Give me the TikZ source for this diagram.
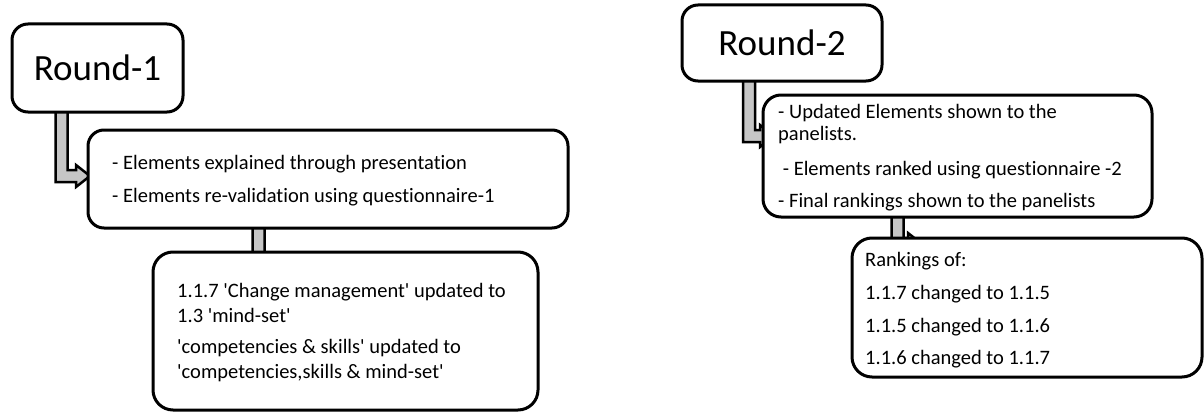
\documentclass[tikz,border=0pt]{standalone}
\usepackage{fontspec}
\setmainfont{Carlito}[Ligatures={NoCommon}]
\usetikzlibrary{calc}
\tikzset{
  box/.style={draw=black, line width=3pt, rounded corners=16pt, fill=white, outer sep=0pt, inner sep=0pt, anchor=north west},
  roundtxt/.style={font=\fontsize{37}{44}\selectfont},
  line/.style={anchor=base west, inner sep=0pt, font=\fontsize{20.5}{25}\selectfont},
  blockarrow/.style={draw=black, line width=2.5pt, fill=gray!45, line join=miter},
}
\newcommand{\q}{\textquotesingle}
\newcommand{\bentarrow}[3]{%
  \path[blockarrow] let \p1=(#1), \p2=(#2) in
   (\x1-6pt,\y1) -- (\x1-6pt,\y2-6pt) -- (\x2-#3,\y2-6pt) -- (\x2-#3,\y2-11pt) -- (\x2,\y2)
   -- (\x2-#3,\y2+11pt) -- (\x2-#3,\y2+6pt) -- (\x1+6pt,\y2+6pt) -- (\x1+6pt,\y1) -- cycle;}
\begin{document}
\begin{tikzpicture}[x=1pt,y=-1pt]
\useasboundingbox (0,0) rectangle (1204,412);
% node frames (positions), drawn later on top of arrows
\node[box, minimum width=171pt, minimum height=88pt, draw=none, fill=none] (r1) at (12,24) {};
\node[box, minimum width=480pt, minimum height=98pt, draw=none, fill=none] (b2) at (88,130) {};
\node[box, minimum width=385pt, minimum height=158pt, draw=none, fill=none] (b3) at (153,252) {};
\node[box, minimum width=200pt, minimum height=76pt, draw=none, fill=none] (r2) at (682,5) {};
\node[box, minimum width=389pt, minimum height=122pt, draw=none, fill=none] (b4) at (763,95) {};
\node[box, minimum width=350pt, minimum height=139pt, draw=none, fill=none] (b5) at (852,238) {};
% connectors
\bentarrow{$(r1.south west)+(49.5,-5)$}{$(b2.west)+(2,-3)$}{14pt}
\bentarrow{$(b2.south west)+(170.5,-5)$}{$(b3.north west)+(130,16)$}{14pt}
\bentarrow{$(r2.south west)+(67,-5)$}{$(b4.west)+(11,-20)$}{14pt}
\bentarrow{$(b4.south west)+(134.5,-5)$}{$(b5.north west)+(70,6)$}{14pt}
% boxes
\node[box, minimum width=171pt, minimum height=88pt, roundtxt, align=center] (r1box) at (r1.north west) {Round-1};
\node[box, minimum width=480pt, minimum height=98pt] (b2box) at (b2.north west) {};
\node[box, minimum width=385pt, minimum height=158pt, rounded corners=20pt] (b3box) at (b3.north west) {};
\node[box, minimum width=200pt, minimum height=76pt, roundtxt, align=center] (r2box) at (r2.north west) {Round-2};
\node[box, minimum width=389pt, minimum height=122pt, rounded corners=18pt] (b4box) at (b4.north west) {};
\node[box, minimum width=350pt, minimum height=139pt, rounded corners=20pt] (b5box) at (b5.north west) {};
% texts
\node[line] (t21) at (112,169) {- Elements explained through presentation};
\node[line] (t22) at (112,202) {- Elements re-validation using questionnaire-1};
\node[line] (t31) at (177,297) {1.1.7 \q Change management\q{} updated to};
\node[line] (t32) at (177,322) {1.3 \q mind-set\q};
\node[line] (t33) at (177,353) {\q competencies \& skills\q{} updated to};
\node[line] (t34) at (177,378) {\q competencies,skills \& mind-set\q};
\node[line] (t41) at (778,118) {- Updated Elements shown to the};
\node[line] (t42) at (778,140) {panelists.};
\node[line] (t43) at (778,175) {\ - Elements ranked using questionnaire -2};
\node[line] (t44) at (778,207) {- Final rankings shown to the panelists};
\node[line] (t51) at (865,266) {Rankings of:};
\node[line] (t52) at (865,299) {1.1.7 changed to 1.1.5};
\node[line] (t53) at (865,332) {1.1.5 changed to 1.1.6};
\node[line] (t54) at (865,364) {1.1.6 changed to 1.1.7};
\end{tikzpicture}
\end{document}
